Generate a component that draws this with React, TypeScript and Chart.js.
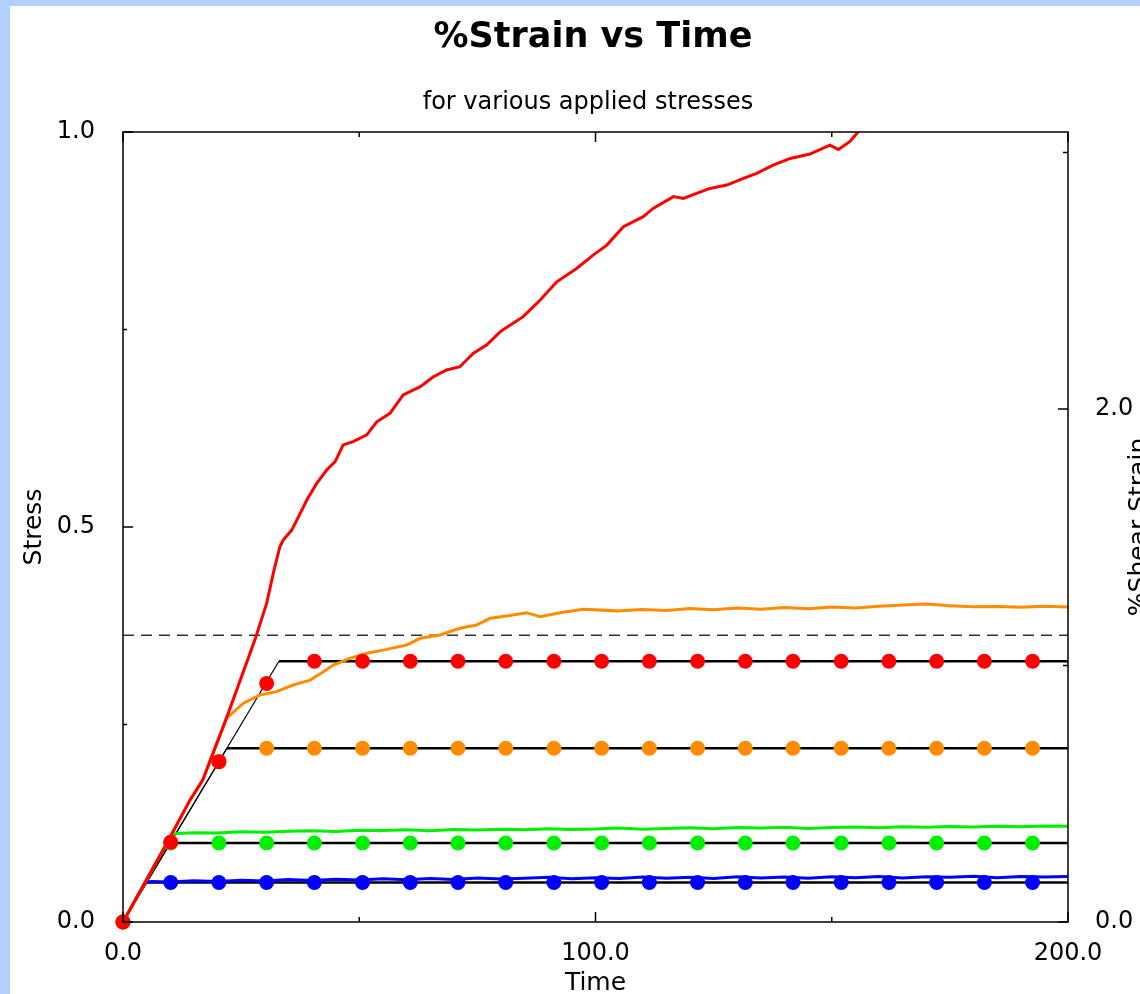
import React, { useEffect, useRef } from "react";
import { Chart, registerables } from "chart.js";

Chart.register(...registerables);

// ---------- text ----------
const TITLE = "%Strain vs Time";
const SUBTITLE = "for various applied stresses";
const X_TITLE = "Time";
const Y_TITLE = "Stress";
const Y1_TITLE = "%Shear Strain";

// ---------- axes ----------
const X_MIN = 0;
const X_MAX = 200;
const Y_MIN = 0;
const Y_MAX = 1.0;
const Y1_MIN = 0;
const Y1_MAX = 3.08;
const xLabelTicks = [0, 100, 200];
const xMinorTicks = [50, 150];
const yLabelTicks = [0, 0.5, 1.0];
const yMinorTicks = [0.25, 0.75];
const y1LabelTicks = [0, 2];
const y1MinorTicks = [1, 3];

// ---------- strain curves (right axis, % shear strain) ----------
const redTime = [0, 9.3, 14.2, 16.9, 21.9, 23.3, 27.9, 30.4, 31.8, 33.2, 33.9, 35.7, 37.5, 38.9, 41.0, 43.1, 44.9, 46.6, 48.7, 51.6, 53.7, 56.5, 59.3, 62.9, 65.7, 68.5, 71.3, 74.1, 77.0, 79.8, 81.9, 84.7, 88.3, 91.8, 96.0, 99.5, 102.4, 105.9, 110.1, 112.2, 116.5, 118.6, 121.4, 124.2, 127.8, 131.3, 134.1, 137.6, 141.2, 145.4, 149.6, 151.4, 153.8, 155.6, 157.5];
const redStrain = [0, 0.308, 0.476, 0.554, 0.795, 0.866, 1.099, 1.242, 1.359, 1.463, 1.489, 1.528, 1.593, 1.645, 1.710, 1.762, 1.795, 1.860, 1.873, 1.899, 1.950, 1.983, 2.055, 2.087, 2.126, 2.152, 2.165, 2.217, 2.250, 2.301, 2.327, 2.360, 2.425, 2.496, 2.548, 2.600, 2.639, 2.711, 2.750, 2.782, 2.828, 2.821, 2.841, 2.860, 2.873, 2.899, 2.919, 2.951, 2.977, 2.994, 3.029, 3.012, 3.042, 3.081, 3.13];

const orangeTime = [0, 9.3, 14.2, 16.9, 21.9, 25.5, 29.0, 32.5, 36.0, 39.6, 42.4, 44.5, 48.0, 51.6, 55.1, 60.0, 62.9, 67.1, 71.3, 74.8, 77.7, 81.2, 85.4, 88.3, 92.5, 97.4, 104.5, 110, 115, 120, 125, 130, 135, 140, 145, 150, 155, 160, 165, 170, 175, 180, 185, 190, 195, 200];
const orangeStrain = [0, 0.308, 0.476, 0.554, 0.794, 0.853, 0.885, 0.898, 0.924, 0.943, 0.976, 1.002, 1.028, 1.048, 1.060, 1.080, 1.106, 1.119, 1.145, 1.158, 1.184, 1.193, 1.206, 1.190, 1.206, 1.219, 1.213, 1.218, 1.214, 1.222, 1.217, 1.224, 1.219, 1.226, 1.221, 1.228, 1.224, 1.231, 1.236, 1.240, 1.233, 1.229, 1.230, 1.227, 1.231, 1.228];

const greenTime = [0, 9.3, 10.4, 11.5, 15, 20, 25, 30, 35, 40, 45, 50, 55, 60, 65, 70, 75, 80, 85, 90, 95, 100, 105, 110, 115, 120, 125, 130, 135, 140, 145, 150, 155, 160, 165, 170, 175, 180, 185, 190, 195, 200];
const greenStrain = [0, 0.308, 0.340, 0.345, 0.348, 0.347, 0.352, 0.350, 0.354, 0.356, 0.353, 0.358, 0.357, 0.360, 0.356, 0.361, 0.359, 0.362, 0.360, 0.364, 0.361, 0.363, 0.366, 0.362, 0.365, 0.367, 0.364, 0.368, 0.366, 0.369, 0.365, 0.368, 0.370, 0.367, 0.371, 0.369, 0.372, 0.370, 0.373, 0.371, 0.374, 0.373];

const blueTime = [0, 4.7, 6, 10, 15, 20, 25, 30, 35, 40, 45, 50, 55, 60, 65, 70, 75, 80, 85, 90, 95, 100, 105, 110, 115, 120, 125, 130, 135, 140, 145, 150, 155, 160, 165, 170, 175, 180, 185, 190, 195, 200];
const blueStrain = [0, 0.154, 0.158, 0.156, 0.161, 0.158, 0.163, 0.160, 0.166, 0.162, 0.167, 0.164, 0.169, 0.165, 0.170, 0.166, 0.172, 0.168, 0.171, 0.174, 0.169, 0.173, 0.170, 0.175, 0.171, 0.174, 0.170, 0.176, 0.172, 0.175, 0.171, 0.176, 0.173, 0.177, 0.172, 0.176, 0.174, 0.178, 0.173, 0.177, 0.175, 0.177];

// ---------- applied stress (left axis) ----------
const redStressTime = [0, 33, 200];
const redStress = [0, 0.33, 0.33];
const orangeStressTime = [0, 22, 200];
const orangeStress = [0, 0.22, 0.22];
const greenStressTime = [0, 10, 200];
const greenStress = [0, 0.1, 0.1];
const blueStressTime = [0, 5, 200];
const blueStress = [0, 0.05, 0.05];
const yieldTime = [0, 200];
const yieldStress = [0.363, 0.363];

// sampled stress markers
const dotTime = [0, 10.1, 20.3, 30.4, 40.5, 50.7, 60.8, 70.9, 81.0, 91.2, 101.3, 111.4, 121.6, 131.7, 141.8, 152.0, 162.1, 172.2, 182.3, 192.5];
const redDots = [0, 0.101, 0.203, 0.302, 0.33, 0.33, 0.33, 0.33, 0.33, 0.33, 0.33, 0.33, 0.33, 0.33, 0.33, 0.33, 0.33, 0.33, 0.33, 0.33];
const orangeDots = [0, 0.101, 0.203, 0.22, 0.22, 0.22, 0.22, 0.22, 0.22, 0.22, 0.22, 0.22, 0.22, 0.22, 0.22, 0.22, 0.22, 0.22, 0.22, 0.22];
const greenDots = [0, 0.1, 0.1, 0.1, 0.1, 0.1, 0.1, 0.1, 0.1, 0.1, 0.1, 0.1, 0.1, 0.1, 0.1, 0.1, 0.1, 0.1, 0.1, 0.1];
const blueDots = [0, 0.05, 0.05, 0.05, 0.05, 0.05, 0.05, 0.05, 0.05, 0.05, 0.05, 0.05, 0.05, 0.05, 0.05, 0.05, 0.05, 0.05, 0.05, 0.05];

// ---------- colours ----------
const RED = "#ff0000";
const ORANGE = "#ff8c00";
const GREEN = "#00f000";
const BLUE = "#0000ff";
const BG = "#b0d0ff";

const W = 1140;
const H = 994;
const FONT = '"DejaVu Sans", "Liberation Sans", sans-serif';

const PLOT_LEFT = 123;
const PLOT_TOP = 132;
const PLOT_RIGHT = 1068;
const PLOT_BOTTOM = 922;
const LEFT_AXIS_W = 100;
const RIGHT_AXIS_W = 70;
const BOTTOM_AXIS_H = 60;

const pts = (xs: number[], ys: number[]) => xs.map((x, i) => ({ x, y: ys[i] }));

const curve = (label: string, xs: number[], ys: number[], color: string, order: number) => ({
  label,
  data: pts(xs, ys),
  yAxisID: "y1",
  borderColor: color,
  borderWidth: 3,
  pointRadius: 0,
  tension: 0,
  order,
});

const stressLine = (label: string, xs: number[], ys: number[], order: number) => ({
  label,
  data: pts(xs, ys),
  yAxisID: "y",
  borderColor: "#000000",
  borderWidth: 2.5,
  pointRadius: 0,
  tension: 0,
  order,
  segment: {
    borderWidth: (ctx: any) => (ctx.p0.parsed.x === 0 ? 1.2 : 2.5),
  },
});

const dots = (label: string, ys: number[], color: string, order: number) => ({
  label,
  data: pts(dotTime, ys),
  yAxisID: "y",
  showLine: false,
  pointRadius: 7.5,
  pointBackgroundColor: color,
  pointBorderWidth: 0,
  borderColor: color,
  order,
  clip: false as any,
});

const decorPlugin = {
  id: "decor",
  beforeDraw(chart: any) {
    const ctx = chart.ctx;
    ctx.save();
    ctx.fillStyle = BG;
    ctx.fillRect(0, 0, W, H);
    ctx.fillStyle = "#ffffff";
    ctx.fillRect(10, 6, W - 10, H - 6);
    ctx.restore();
  },
  afterDraw(chart: any) {
    const ctx = chart.ctx;
    const { left, right, top, bottom } = chart.chartArea;
    const sx = chart.scales.x;
    const sy = chart.scales.y;
    const sy1 = chart.scales.y1;
    ctx.save();
    // frame
    ctx.strokeStyle = "#000";
    ctx.lineWidth = 1.5;
    ctx.strokeRect(left, top, right - left, bottom - top);
    // inward ticks
    ctx.beginPath();
    const xt = (vals: number[], len: number) => {
      vals.forEach((v) => {
        const px = sx.getPixelForValue(v);
        ctx.moveTo(px, bottom);
        ctx.lineTo(px, bottom - len);
        ctx.moveTo(px, top);
        ctx.lineTo(px, top + len);
      });
    };
    xt(xLabelTicks, 10);
    xt(xMinorTicks, 5);
    const yt = (vals: number[], len: number) => {
      vals.forEach((v) => {
        const py = sy.getPixelForValue(v);
        ctx.moveTo(left, py);
        ctx.lineTo(left + len, py);
      });
    };
    yt(yLabelTicks, 10);
    yt(yMinorTicks, 4);
    const y1t = (vals: number[], len: number) => {
      vals.forEach((v) => {
        const py = sy1.getPixelForValue(v);
        ctx.moveTo(right, py);
        ctx.lineTo(right - len, py);
      });
    };
    y1t(y1LabelTicks, 10);
    y1t(y1MinorTicks, 5);
    ctx.stroke();

    // titles
    ctx.fillStyle = "#000";
    ctx.textBaseline = "alphabetic";
    ctx.textAlign = "center";
    ctx.font = `bold 35px ${FONT}`;
    ctx.fillText(TITLE, 593, 47);
    ctx.font = `24px ${FONT}`;
    ctx.fillText(SUBTITLE, 588, 109);
    ctx.font = `25px ${FONT}`;
    ctx.fillText(X_TITLE, (left + right) / 2, 990);

    ctx.save();
    ctx.translate(41, (top + bottom) / 2);
    ctx.rotate(-Math.PI / 2);
    ctx.fillText(Y_TITLE, 0, 0);
    ctx.restore();

    ctx.save();
    ctx.translate(1146, (top + bottom) / 2);
    ctx.rotate(-Math.PI / 2);
    ctx.fillText(Y1_TITLE, 0, 0);
    ctx.restore();

    ctx.restore();
  },
};

export default function App() {
  const ref = useRef<HTMLCanvasElement>(null);

  useEffect(() => {
    const canvas = ref.current;
    if (!canvas) return;
    const tickFont = { family: FONT, size: 24, lineHeight: 1 };
    const chart = new Chart(canvas, {
      type: "line",
      data: {
        datasets: [
          dots("red stress", redDots, RED, 1),
          dots("orange stress", orangeDots, ORANGE, 2),
          dots("green stress", greenDots, GREEN, 3),
          dots("blue stress", blueDots, BLUE, 4),
          curve("red strain", redTime, redStrain, RED, 5),
          curve("orange strain", orangeTime, orangeStrain, ORANGE, 6),
          curve("green strain", greenTime, greenStrain, GREEN, 7),
          curve("blue strain", blueTime, blueStrain, BLUE, 8),
          stressLine("red applied", redStressTime, redStress, 9),
          stressLine("orange applied", orangeStressTime, orangeStress, 10),
          stressLine("green applied", greenStressTime, greenStress, 11),
          stressLine("blue applied", blueStressTime, blueStress, 12),
          {
            label: "yield",
            data: pts(yieldTime, yieldStress),
            yAxisID: "y",
            borderColor: "#333333",
            borderWidth: 1.5,
            borderDash: [11, 7],
            pointRadius: 0,
            order: 13,
          },
        ] as any,
      },
      options: {
        responsive: false,
        animation: false,
        devicePixelRatio: 1,
        events: [],
        layout: {
          padding: {
            left: PLOT_LEFT - LEFT_AXIS_W,
            top: PLOT_TOP,
            right: W - PLOT_RIGHT - RIGHT_AXIS_W,
            bottom: H - PLOT_BOTTOM - BOTTOM_AXIS_H,
          },
        },
        plugins: {
          legend: { display: false },
          tooltip: { enabled: false },
          title: { display: false },
        },
        scales: {
          x: {
            type: "linear",
            position: "bottom",
            min: X_MIN,
            max: X_MAX,
            grid: { display: false },
            border: { display: false },
            afterFit: (s: any) => { s.height = BOTTOM_AXIS_H; },
            afterBuildTicks: (s: any) => { s.ticks = xLabelTicks.map((v) => ({ value: v })); },
            ticks: {
              font: tickFont,
              color: "#000",
              padding: 12,
              maxRotation: 0,
              autoSkip: false,
              callback: (v: any) => Number(v).toFixed(1),
            },
          },
          y: {
            type: "linear",
            position: "left",
            min: Y_MIN,
            max: Y_MAX,
            grid: { display: false },
            border: { display: false },
            afterFit: (s: any) => { s.width = LEFT_AXIS_W; },
            afterBuildTicks: (s: any) => { s.ticks = yLabelTicks.map((v) => ({ value: v })); },
            ticks: {
              font: tickFont,
              color: "#000",
              padding: 20,
              autoSkip: false,
              callback: (v: any) => Number(v).toFixed(1),
            },
          },
          y1: {
            type: "linear",
            position: "right",
            min: Y1_MIN,
            max: Y1_MAX,
            grid: { display: false },
            border: { display: false },
            afterFit: (s: any) => { s.width = RIGHT_AXIS_W; },
            afterBuildTicks: (s: any) => { s.ticks = y1LabelTicks.map((v) => ({ value: v })); },
            ticks: {
              font: tickFont,
              color: "#000",
              padding: 19,
              autoSkip: false,
              callback: (v: any) => Number(v).toFixed(1),
            },
          },
        },
      } as any,
      plugins: [decorPlugin],
    });
    return () => chart.destroy();
  }, []);

  return (
    <div style={{ position: "absolute", left: 0, top: 0, width: W, height: H }}>
      <canvas ref={ref} width={W} height={H} style={{ display: "block", width: W, height: H }} />
    </div>
  );
}
